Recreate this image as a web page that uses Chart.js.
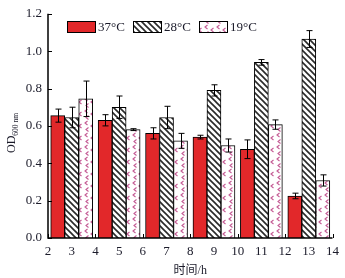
<!DOCTYPE html>
<html><head><meta charset="utf-8">
<script src="https://cdn.jsdelivr.net/npm/chart.js@4/dist/chart.umd.min.js"></script>
<style>html,body{margin:0;padding:0;background:#fff}#wrap{width:345px;height:278px;position:relative}</style>
</head><body>
<div id="wrap"><canvas id="c"></canvas></div>
<script>
const times = [3, 5, 7, 9, 11, 13];
const seriesNames = ['37°C', '28°C', '19°C'];
const od37 = [0.655, 0.63, 0.56, 0.54, 0.475, 0.225];
const err37 = [0.035, 0.03, 0.03, 0.01, 0.05, 0.015];
const od28 = [0.645, 0.70, 0.645, 0.79, 0.94, 1.065];
const err28 = [0.055, 0.06, 0.06, 0.03, 0.015, 0.045];
const od19 = [0.745, 0.58, 0.52, 0.495, 0.607, 0.308];
const err19 = [0.095, 0.005, 0.04, 0.035, 0.025, 0.03];
const yTicks = [0, 0.2, 0.4, 0.6, 0.8, 1.0, 1.2];
const xTitle = '时间/h';

const FONT = "'Liberation Serif', 'Noto Sans CJK SC', serif";
const TXT = '#1b1b2a';

function hatchPattern() {
  const n = 6;
  const c = document.createElement('canvas'); c.width = n; c.height = n;
  const g = c.getContext('2d');
  g.fillStyle = '#fff'; g.fillRect(0, 0, n, n);
  g.strokeStyle = '#2a2a2a'; g.lineWidth = 1.6;
  g.beginPath();
  g.moveTo(-1, -1); g.lineTo(n + 1, n + 1);
  g.moveTo(-1, n - 1); g.lineTo(1, n + 1);
  g.moveTo(n - 1, -1); g.lineTo(n + 1, 1);
  g.stroke();
  return g.createPattern(c, 'repeat');
}
function dotPattern() {
  const c = document.createElement('canvas'); c.width = 12; c.height = 12;
  const g = c.getContext('2d');
  g.fillStyle = '#fff'; g.fillRect(0, 0, 12, 12);
  g.strokeStyle = '#c45a94'; g.lineWidth = 1.1;
  const chev = (x, y) => { g.beginPath(); g.moveTo(x + 2.5, y); g.lineTo(x, y + 2); g.lineTo(x + 2.5, y + 4); g.stroke(); };
  chev(1, 1); chev(7, 4); chev(2, 7.5);
  return g.createPattern(c, 'repeat');
}

const mk = (arr) => arr.map((v, i) => ({ x: times[i], y: v }));
const errs = [err37, err28, err19];

const errorBars = {
  id: 'errorBars',
  afterDatasetsDraw(chart) {
    const ctx = chart.ctx, ys = chart.scales.y;
    ctx.save(); ctx.strokeStyle = '#000'; ctx.lineWidth = 1;
    chart.data.datasets.forEach((ds, di) => {
      const meta = chart.getDatasetMeta(di);
      meta.data.forEach((bar, i) => {
        const v = ds.data[i].y, e = errs[di][i];
        const x = Math.round(bar.x) + 0.5;
        const t = ys.getPixelForValue(v + e), b = ys.getPixelForValue(v - e);
        ctx.beginPath();
        ctx.moveTo(x, t); ctx.lineTo(x, b);
        ctx.moveTo(x - 3, t); ctx.lineTo(x + 3, t);
        ctx.moveTo(x - 3, b); ctx.lineTo(x + 3, b);
        ctx.stroke();
      });
    });
    ctx.restore();
  }
};

const axesDeco = {
  id: 'axesDeco',
  afterDraw(chart) {
    const ctx = chart.ctx, a = chart.chartArea, xs = chart.scales.x, ys = chart.scales.y;
    ctx.save();
    ctx.strokeStyle = '#000'; ctx.lineWidth = 1.5;
    ctx.beginPath();
    ctx.moveTo(a.left, a.top); ctx.lineTo(a.left, a.bottom); ctx.lineTo(a.right, a.bottom);
    ctx.stroke();
    ctx.lineWidth = 1;
    ctx.beginPath();
    yTicks.forEach(v => { const y = Math.round(ys.getPixelForValue(v)) + 0.5; ctx.moveTo(a.left, y); ctx.lineTo(a.left + 4, y); });
    for (let v = 2; v <= 14; v += 2) { const x = Math.round(xs.getPixelForValue(v)) + 0.5; ctx.moveTo(x, a.bottom); ctx.lineTo(x, a.bottom - 4); }
    ctx.stroke();
    // y title with subscript
    ctx.fillStyle = TXT;
    ctx.translate(15, 133);
    ctx.rotate(-Math.PI / 2);
    ctx.textBaseline = 'alphabetic';
    ctx.font = '12px ' + FONT;
    const w1 = ctx.measureText('OD').width;
    ctx.font = '7.5px ' + FONT;
    const w2 = ctx.measureText('600 nm').width;
    const start = -(w1 + w2) / 2;
    ctx.font = '12px ' + FONT;
    ctx.fillText('OD', start, 0);
    ctx.font = '7.5px ' + FONT;
    ctx.fillText('600 nm', start + w1, 2.5);
    ctx.restore();
    // legend
    ctx.save();
    const items = [[67, 21], [133, 21], [199, 21]];
    chart.data.datasets.forEach((ds, i) => {
      const [x, y] = items[i];
      ctx.fillStyle = ds.backgroundColor;
      ctx.fillRect(x, y, 28, 11);
      ctx.strokeStyle = '#000'; ctx.lineWidth = 1;
      ctx.strokeRect(x + 0.5, y + 0.5, 28, 11);
      ctx.fillStyle = TXT; ctx.font = '13px ' + FONT; ctx.textBaseline = 'middle';
      ctx.fillText(ds.label, x + 31, y + 6.5);
    });
    ctx.restore();
  }
};

new Chart(document.getElementById('c'), {
  type: 'bar',
  data: {
    datasets: [
      { label: seriesNames[0], data: mk(od37), backgroundColor: '#e2282a', borderColor: '#000', borderWidth: 1 },
      { label: seriesNames[1], data: mk(od28), backgroundColor: hatchPattern(), borderColor: '#000', borderWidth: 1 },
      { label: seriesNames[2], data: mk(od19), backgroundColor: dotPattern(), borderColor: '#000', borderWidth: 1 }
    ]
  },
  options: {
    responsive: true, maintainAspectRatio: false, animation: false,
    layout: { padding: { top: 13, right: 11, left: 0, bottom: 0 } },
    plugins: { legend: { display: false }, tooltip: { enabled: false } },
    datasets: { bar: { barThickness: 14 } },
    scales: {
      x: {
        type: 'linear', min: 2, max: 14, offset: false,
        grid: { display: false, drawTicks: false }, border: { display: false },
        ticks: { stepSize: 1, color: TXT, font: { family: FONT, size: 13 }, padding: 6, maxRotation: 0, autoSkip: false },
        title: { display: true, text: xTitle, color: TXT, font: { family: FONT, size: 12 }, padding: { top: 1, bottom: 0 } },
        afterFit(s) { s.height = 40; }
      },
      y: {
        min: 0, max: 1.2,
        grid: { display: false, drawTicks: false }, border: { display: false },
        ticks: { stepSize: 0.2, color: TXT, font: { family: FONT, size: 13 }, padding: 6, callback: v => Number(v).toFixed(1) },
        afterFit(s) { s.width = 48; }
      }
    }
  },
  plugins: [errorBars, axesDeco]
});
</script>
</body></html>
